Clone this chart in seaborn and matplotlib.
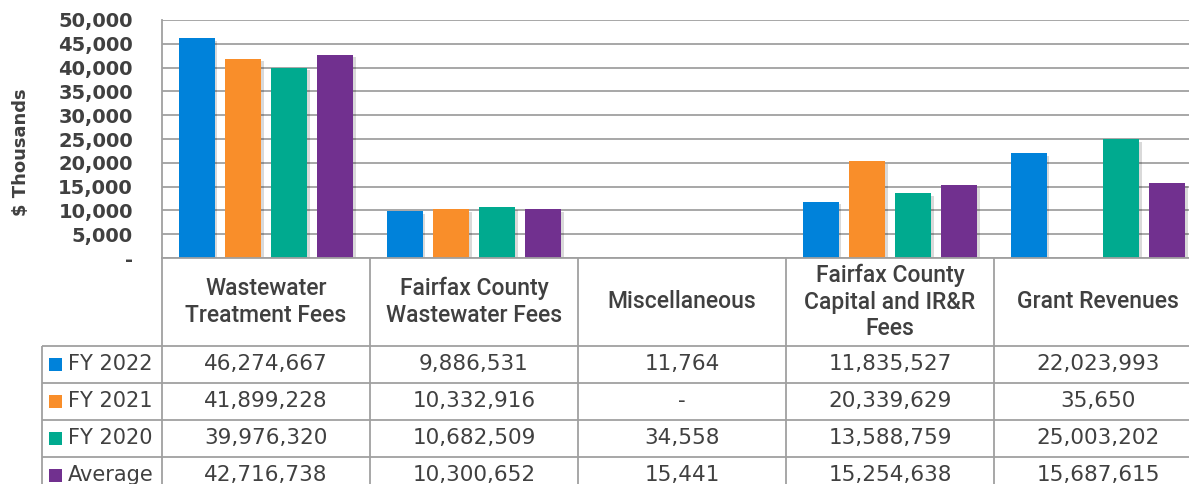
import pandas as pd
import matplotlib
matplotlib.use("Agg")
import matplotlib.pyplot as plt
import matplotlib.patheffects as pe
import seaborn as sns

# revenue categories and values (dollars)
categories = ["Wastewater\nTreatment Fees", "Fairfax County\nWastewater Fees", "Miscellaneous",
              "Fairfax County\nCapital and IR&R\nFees", "Grant Revenues"]
series = ["FY 2022", "FY 2021", "FY 2020", "Average"]
fy2022 = [46274667, 9886531, 11764, 11835527, 22023993]
fy2021 = [41899228, 10332916, 0, 20339629, 35650]
fy2020 = [39976320, 10682509, 34558, 13588759, 25003202]
average = [42716738, 10300652, 15441, 15254638, 15687615]
y_ticks = [0, 5000, 10000, 15000, 20000, 25000, 30000, 35000, 40000, 45000, 50000]

colors = ["#0082DA", "#F98E2A", "#00AA8F", "#71308F"]
grid_col = "#A0A0A0"
text_col = "#404040"

rows = []
for name, vals in zip(series, [fy2022, fy2021, fy2020, average]):
    for cat, v in zip(categories, vals):
        rows.append({"category": cat, "series": name, "value": v, "thousands": v / 1000})
df = pd.DataFrame(rows)

sns.set_style("white")
plt.rcParams["font.family"] = ["DejaVu Sans"]

W, H = 1189, 484
fig = plt.figure(figsize=(W / 100, H / 100), dpi=100)
fig.patch.set_facecolor("white")

# bar chart area (pixel layout of the original)
ax = fig.add_axes([162 / W, 226 / H, 1040 / W, 238 / H])
sns.barplot(data=df, x="category", y="thousands", hue="series", order=categories,
            hue_order=series, palette=colors, saturation=1, width=0.89, gap=0.22,
            linewidth=0, legend=False, ax=ax)
for bar in ax.patches:
    bar.set_linewidth(0)
    bar.set_path_effects([pe.SimplePatchShadow(offset=(2, -2), shadow_rgbFace="k", alpha=0.15),
                          pe.Normal()])
ax.set_xlim(-0.5, 4.5)
ax.set_ylim(0, 50000)
ax.set_xticks([])
ax.set_xlabel("")
ax.set_yticks(y_ticks)
ax.set_yticklabels(["-" if t == 0 else f"{t:,}" for t in y_ticks],
                   fontsize=14, fontweight="bold", color=text_col)
ax.tick_params(axis="y", length=0, pad=21)
ax.set_ylabel("")
ax.yaxis.grid(True, color=grid_col, lw=1.3)
ax.set_axisbelow(True)
for s in ["top", "right"]:
    ax.spines[s].set_visible(False)
for s in ["left", "bottom"]:
    ax.spines[s].set_color(grid_col)
    ax.spines[s].set_linewidth(1.3)
fig.text(21 / W, 1 - 152 / H, "$ Thousands", rotation=90, ha="center", va="center",
         fontsize=13, fontweight="bold", color=text_col)

# data table below the chart
tax = fig.add_axes([0, -10 / H, 1202 / W, 236 / H])
tax.set_xlim(0, 1202)
tax.set_ylim(494, 258)
tax.axis("off")
col_left, col_w = 162, 208
head_bottom, row_h = 346, 37
for r in range(4):
    tax.hlines(head_bottom + r * row_h, 42, 1202, color=grid_col, lw=1.3)
for i in range(6):
    tax.vlines(col_left + i * col_w, 258, 494, color=grid_col, lw=1.3)
tax.vlines(42, head_bottom, 494, color=grid_col, lw=1.3)

for i, cat in enumerate(categories):
    tax.text(col_left + col_w * (i + 0.5), 302, cat, ha="center", va="center",
             fontsize=16.5, fontweight="medium", color=text_col,
             family=["Roboto", "DejaVu Sans"], linespacing=1.2)

for r, (name, vals) in enumerate(zip(series, [fy2022, fy2021, fy2020, average])):
    yc = head_bottom + row_h * (r + 0.5)
    tax.add_patch(plt.Rectangle((49, yc - 6.5), 13, 13, color=colors[r], lw=0))
    tax.text(68, yc, name, ha="left", va="center", fontsize=15, color=text_col)
    for i, v in enumerate(vals):
        tax.text(col_left + col_w * (i + 0.5), yc, "-" if v == 0 else f"{v:,}",
                 ha="center", va="center", fontsize=15.5, color=text_col)

fig.savefig("out.png", dpi=100)
